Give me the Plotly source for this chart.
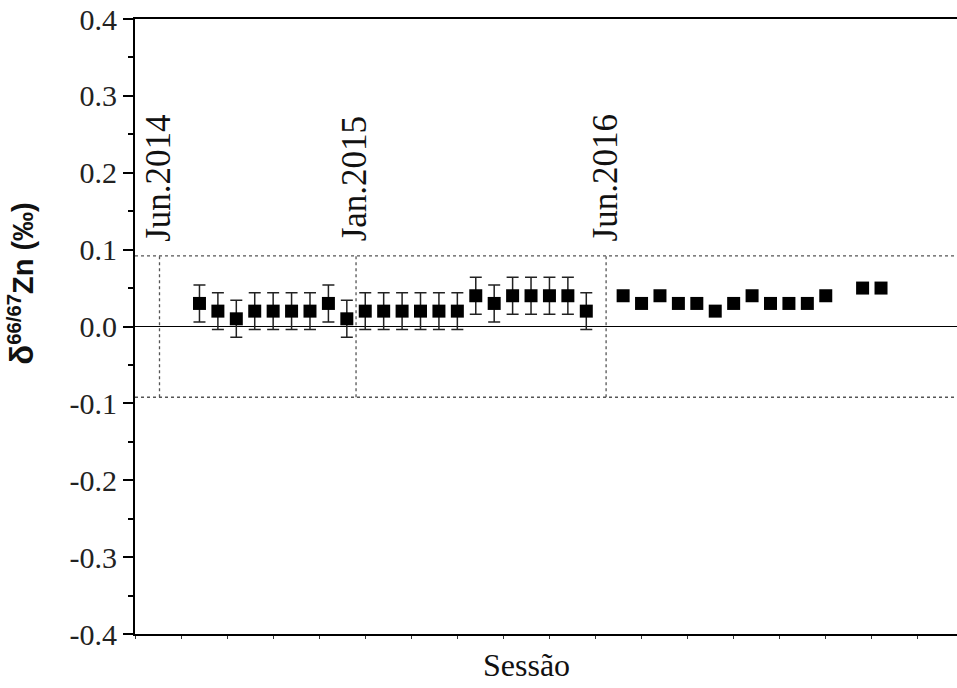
import plotly.graph_objects as go

# Data
sessions_err = [7, 9, 11, 13, 15, 17, 19, 21, 23, 25, 27, 29, 31, 33, 35, 37, 39, 41, 43, 45, 47, 49]
values_err = [0.03, 0.02, 0.01, 0.02, 0.02, 0.02, 0.02, 0.03, 0.01, 0.02, 0.02,
              0.02, 0.02, 0.02, 0.02, 0.04, 0.03, 0.04, 0.04, 0.04, 0.04, 0.02]
errors = [0.024, 0.024, 0.024, 0.024, 0.024, 0.024, 0.024, 0.024, 0.024, 0.024, 0.024,
          0.024, 0.024, 0.024, 0.024, 0.024, 0.024, 0.024, 0.024, 0.024, 0.024, 0.024]
sessions_noerr = [53, 55, 57, 59, 61, 63, 65, 67, 69, 71, 73, 75, 79, 81]
values_noerr = [0.04, 0.03, 0.04, 0.03, 0.03, 0.02, 0.03, 0.04, 0.03, 0.03, 0.03, 0.04, 0.05, 0.05]

limit = 0.092
period_x = [2.66, 24.0, 51.15]
period_labels = ["Jun.2014", "Jan.2015", "Jun.2016"]
ytick_vals = [-0.4, -0.3, -0.2, -0.1, 0.0, 0.1, 0.2, 0.3, 0.4]
ytick_text = ["-0.4", "-0.3", "-0.2", "-0.1", "0.0", "0.1", "0.2", "0.3", "0.4"]
x_max = 89.25

serif = "Liberation Serif"

fig = go.Figure()

fig.add_trace(go.Scatter(
    x=sessions_err, y=values_err, mode="markers",
    marker=dict(symbol="square", size=13, color="black"),
    error_y=dict(type="data", array=errors, visible=True, color="#222",
                 thickness=1.5, width=6),
    showlegend=False,
))
fig.add_trace(go.Scatter(
    x=sessions_noerr, y=values_noerr, mode="markers",
    marker=dict(symbol="square", size=13, color="black"),
    showlegend=False,
))

shapes = []
for yy in (limit, -limit):
    shapes.append(dict(type="line", xref="paper", yref="y", x0=0, x1=1, y0=yy, y1=yy,
                       line=dict(color="#555", width=1.3, dash="3px,3px"), layer="below"))
for xx in period_x:
    shapes.append(dict(type="line", xref="x", yref="y", x0=xx, x1=xx, y0=-limit, y1=limit,
                       line=dict(color="#555", width=1.3, dash="3px,3px"), layer="below"))
shapes.append(dict(type="line", xref="paper", yref="y", x0=0, x1=1, y0=0, y1=0,
                   line=dict(color="black", width=1.2), layer="below"))

annotations = []
shifts = [-1, -2, -1]
for xx, lab, sh in zip(period_x, period_labels, shifts):
    annotations.append(dict(x=xx, y=limit, xref="x", yref="y", text=lab, textangle=-90,
                            showarrow=False, xanchor="center", yanchor="bottom",
                            yshift=12, xshift=sh,
                            font=dict(family=serif, size=35, color="#111")))
annotations.append(dict(x=-0.1375, y=0.571, xref="paper", yref="paper",
                        text="<b><span style='font-size:33px'>δ</span><sup>66/67</sup>Zn (‰)</b>",
                        textangle=-90,
                        showarrow=False, xanchor="center", yanchor="middle",
                        font=dict(family="Liberation Sans", size=29, color="#111")))
annotations.append(dict(x=0.4757, y=-0.0504, xref="paper", yref="paper",
                        text="Sessão", showarrow=False, xanchor="center", yanchor="middle",
                        font=dict(family=serif, size=32, color="#111")))

fig.update_layout(
    width=957, height=688,
    margin=dict(l=135, r=0, t=19, b=54),
    paper_bgcolor="white", plot_bgcolor="white",
    shapes=shapes, annotations=annotations,
    xaxis=dict(range=[0, x_max], showgrid=False, zeroline=False,
               showline=True, linecolor="black", linewidth=2, mirror=True,
               ticks="outside", ticklen=3, tickwidth=1.2, tickcolor="#333",
               dtick=5, tick0=0, showticklabels=False),
    yaxis=dict(range=[-0.4, 0.4], showgrid=False, zeroline=False,
               showline=True, linecolor="black", linewidth=2,
               ticks="outside", ticklen=10, tickwidth=2, tickcolor="black",
               tickvals=ytick_vals, ticktext=ytick_text,
               tickfont=dict(family=serif, size=30, color="#222"),
               minor=dict(ticks="outside", ticklen=5, tickwidth=2, tickcolor="black", dtick=0.05)),
)

fig.write_html("out.html")
